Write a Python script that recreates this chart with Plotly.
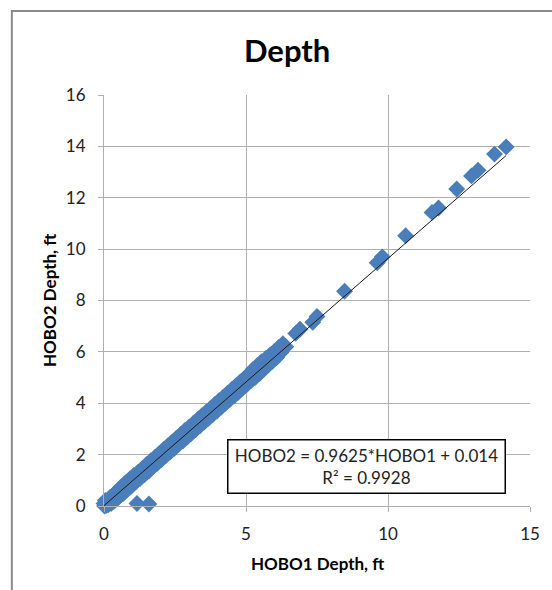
import plotly.graph_objects as go
import numpy as np

# ---- data ----
hobo1 = [0, 0.02, 0.05, 0.08, 0.1, 0.15, 0.2, 0.25, 0.3, 0.35, 0.4, 0.45, 0.5, 0.55, 0.6, 0.68,
         0.75, 0.82, 0.9, 0.97, 1.05, 1.12, 1.2, 1.28, 1.35, 1.43, 1.5, 1.58, 1.65, 1.73, 1.8,
         1.88, 1.95, 2.03, 2.1, 2.18, 2.25, 2.33, 2.4, 2.48, 2.55, 2.63, 2.7, 2.78, 2.85, 2.93,
         3.0, 3.08, 3.15, 3.23, 3.3, 3.38, 3.45, 3.53, 3.6, 3.68, 3.75, 3.83, 3.9, 3.98, 4.05,
         4.13, 4.2, 4.28, 4.35, 4.43, 4.5, 4.58, 4.65, 4.73, 4.8, 4.88, 4.95, 5.03, 5.1, 5.18,
         5.25, 5.33, 5.4, 5.48, 5.55, 5.63, 5.7, 5.78, 5.85, 5.93, 6.0, 6.08, 6.15, 6.23, 6.3,
         6.4, 6.75, 6.9, 7.35, 7.5, 8.47, 9.62, 9.8, 10.62, 11.55, 11.78, 12.42, 12.94, 13.17,
         13.75, 14.16, 1.16, 1.58]
hobo2 = [0.1, 0.0, 0.22, 0.02, 0.14, 0.05, 0.32, 0.1, 0.38, 0.18, 0.52, 0.28, 0.62, 0.38, 0.74, 0.48,
         0.9, 0.64, 1.04, 0.78, 1.19, 0.94, 1.32, 1.08, 1.46, 1.22, 1.62, 1.36, 1.76, 1.53, 1.9,
         1.66, 2.05, 1.81, 2.2, 1.96, 2.35, 2.1, 2.49, 2.25, 2.64, 2.4, 2.79, 2.53, 2.94, 2.68,
         3.08, 2.83, 3.22, 2.98, 3.37, 3.12, 3.52, 3.27, 3.66, 3.41, 3.8, 3.56, 3.95, 3.7, 4.1,
         3.85, 4.24, 4.0, 4.39, 4.14, 4.54, 4.28, 4.68, 4.43, 4.83, 4.58, 4.98, 4.73, 5.12, 4.88,
         5.32, 5.01, 5.47, 5.16, 5.62, 5.33, 5.74, 5.48, 5.88, 5.63, 6.02, 5.78, 6.17, 5.98, 6.32,
         6.2, 6.72, 6.88, 7.15, 7.38, 8.36, 9.47, 9.7, 10.52, 11.43, 11.6, 12.34, 12.85, 13.07,
         13.7, 13.98, 0.1, 0.08]

slope = 0.9625
intercept = 0.014
r2 = 0.9928
trend_x = [0, 14.16]

x_ticks = [0, 5, 10, 15]
y_ticks = [0, 2, 4, 6, 8, 10, 12, 14, 16]

# ---- layout geometry (pixels) ----
W, H = 552, 590
L, R, T, B = 104, 534, 95, 506
pw, ph = R - L, B - T


def px(xpix):
    return (xpix - L) / pw


def py(ypix):
    return (B - ypix) / ph


FONT = "Lato"
GRID = "#b0b0b0"

fig = go.Figure()
fig.add_trace(go.Scatter(
    x=hobo1, y=hobo2, mode="markers", cliponaxis=False,
    marker=dict(symbol="diamond", size=13, color="#4a7ebb", line=dict(width=0)),
    showlegend=False,
))
trend_y = [slope * v + intercept for v in trend_x]
fig.add_trace(go.Scatter(
    x=trend_x, y=trend_y, mode="lines", cliponaxis=False,
    line=dict(color="#1a1a1a", width=1), showlegend=False,
))

axis_common = dict(
    showgrid=True, gridcolor=GRID, gridwidth=1,
    showline=True, linecolor=GRID, linewidth=1,
    ticks="outside", ticklen=5, tickcolor=GRID, tickwidth=1,
    zeroline=False, mirror=False,
    tickfont=dict(family=FONT, size=17, color="#222222"),
    fixedrange=True,
)
fig.update_xaxes(range=[0, 15], tickvals=x_ticks, ticklabelstandoff=8, **axis_common)
fig.update_yaxes(range=[0, 16], tickvals=y_ticks, ticklabelstandoff=9, **axis_common)

annotations = [
    dict(text="<b>Depth</b>", xref="paper", yref="paper", x=px(288.5), y=py(50),
         xanchor="center", yanchor="middle", showarrow=False,
         font=dict(family=FONT, size=31, color="#000000")),
    dict(text="<b>HOBO1 Depth, ft</b>", xref="paper", yref="paper", x=px(319), y=py(563),
         xanchor="center", yanchor="middle", showarrow=False,
         font=dict(family=FONT, size=17, color="#000000")),
    dict(text="<b>HOBO2 Depth, ft</b>", xref="paper", yref="paper", x=px(48.5), y=py(301),
         xanchor="center", yanchor="middle", showarrow=False, textangle=-90,
         font=dict(family=FONT, size=17, color="#000000")),
    dict(text=f"HOBO2 = {slope}*HOBO1 + {intercept}<br>R² = {r2}",
         xref="paper", yref="paper", x=px(368.5), y=py(466),
         xanchor="center", yanchor="middle", showarrow=False, align="center",
         width=268, height=44, borderpad=4,
         bordercolor="#000000", borderwidth=1.5, bgcolor="#ffffff",
         font=dict(family=FONT, size=17, color="#222222")),
]

shapes = [
    dict(type="rect", xref="paper", yref="paper",
         x0=px(11), x1=px(700), y0=py(700), y1=py(11),
         line=dict(color="#8c8c8c", width=2), fillcolor="rgba(0,0,0,0)", layer="below"),
]

fig.update_layout(
    width=W, height=H,
    margin=dict(l=L, r=W - R, t=T, b=H - B, pad=0),
    paper_bgcolor="#ffffff", plot_bgcolor="#ffffff",
    annotations=annotations, shapes=shapes,
    showlegend=False,
)

fig.write_html("out.html", config={"displayModeBar": False})
